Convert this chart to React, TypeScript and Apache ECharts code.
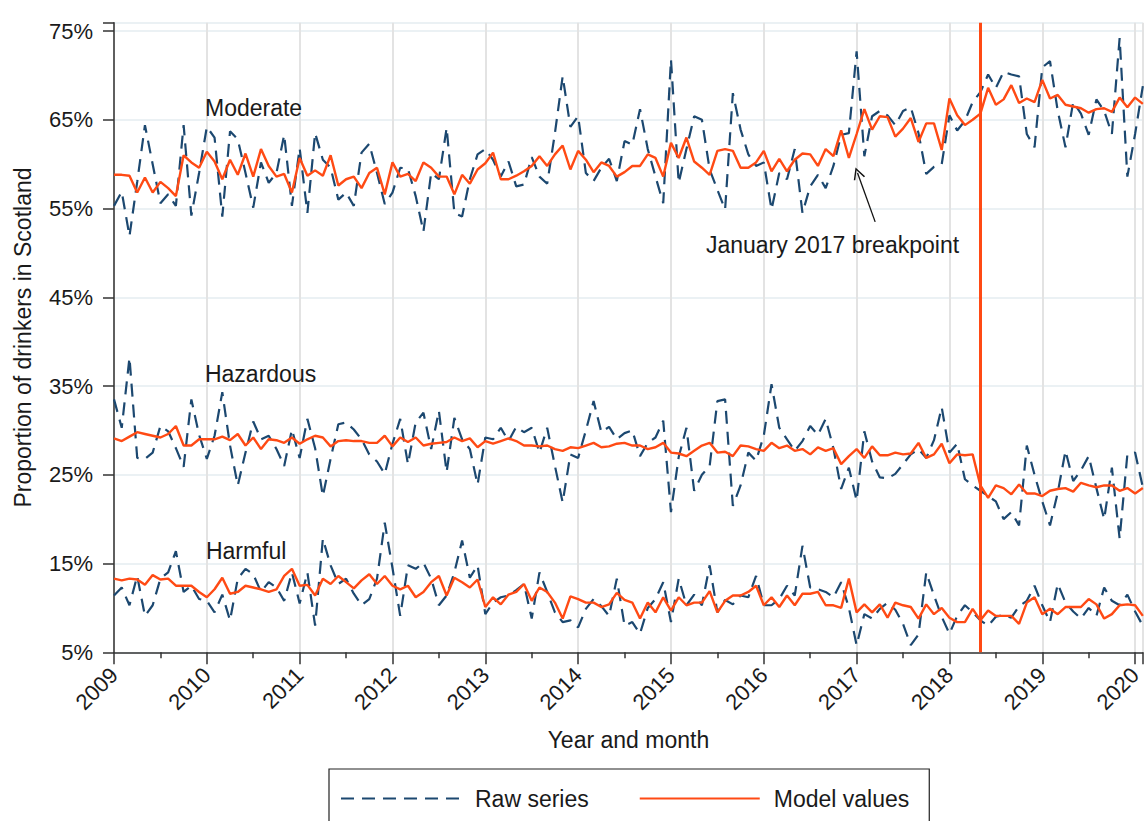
import React, { useEffect, useRef } from "react";
import * as echarts from "echarts";

// Monthly series, January 2009 to February 2020 (134 months)
const START_YEAR = 2009;
const rawModerate = [
  55.3, 56.9, 51.9, 58.0, 64.4, 60.0, 55.6, 56.6, 55.3, 64.4,
  54.2, 59.0, 64.2, 63.0, 54.1, 63.7, 62.8, 59.0, 55.1, 60.2,
  57.9, 59.0, 63.3, 55.3, 61.8, 54.5, 63.5, 60.5, 59.6, 56.0,
  56.8, 55.3, 61.3, 62.3, 59.0, 55.5, 56.8, 59.6, 59.5, 56.4,
  52.4, 59.0, 58.3, 64.1, 54.5, 54.1, 58.3, 61.1, 61.7, 60.5,
  58.6, 60.3, 57.5, 57.7, 60.8, 58.6, 57.8, 63.5, 69.9, 64.2,
  65.4, 59.0, 58.1, 59.6, 60.6, 58.1, 62.6, 62.2, 66.2, 61.7,
  58.6, 55.6, 71.8, 57.9, 61.7, 65.4, 65.0, 59.4, 57.1, 54.9,
  68.0, 63.9, 61.1, 59.8, 60.2, 54.9, 59.0, 58.3, 61.7, 54.5,
  57.5, 58.8, 57.3, 59.8, 63.3, 63.5, 72.7, 60.9, 65.4, 66.0,
  65.5, 64.4, 66.0, 66.4, 63.5, 58.9, 59.7, 60.0, 65.5, 63.8,
  64.9, 67.0, 68.1, 70.1, 68.6, 70.4, 70.1, 69.9, 63.4, 61.9,
  70.9, 71.6, 66.0, 61.9, 67.0, 65.7, 63.3, 67.3, 66.0, 63.4,
  74.2, 58.6, 63.4, 68.8,
];
const modelModerate = [
  58.8, 58.8, 58.7, 56.8, 58.5, 56.8, 58.0, 57.3, 56.4, 61.0,
  60.2, 59.6, 61.4, 60.3, 58.3, 60.5, 58.8, 61.2, 58.6, 61.7,
  59.8, 58.6, 58.9, 56.8, 60.7, 58.7, 59.3, 58.7, 61.0, 57.6,
  58.3, 58.6, 57.3, 59.0, 59.6, 56.6, 60.2, 58.6, 58.9, 58.1,
  60.2, 59.6, 58.6, 58.6, 56.6, 58.8, 57.8, 59.4, 60.1, 61.3,
  58.3, 58.3, 58.7, 59.2, 59.8, 60.9, 59.8, 61.1, 62.1, 59.4,
  61.5, 60.5, 59.1, 60.2, 59.8, 58.6, 59.1, 59.8, 59.8, 61.1,
  60.7, 58.6, 62.4, 60.7, 63.0, 60.3, 59.6, 58.8, 61.5, 61.7,
  61.5, 59.6, 59.6, 60.2, 61.5, 59.2, 60.6, 59.2, 60.5, 61.2,
  61.1, 59.8, 61.7, 60.9, 63.8, 60.7, 63.4, 66.2, 63.9, 65.4,
  65.3, 63.1, 64.0, 65.2, 62.5, 64.6, 64.6, 61.6, 67.4, 65.5,
  64.4, 65.0, 65.7, 68.6, 66.7, 67.3, 68.9, 66.9, 67.4, 67.0,
  69.5, 67.4, 67.8, 66.7, 66.5, 66.3, 65.8, 66.2, 66.3, 65.9,
  67.5, 66.4, 67.5, 66.8,
];
const rawHazardous = [
  33.5, 30.3, 38.2, 26.9, 26.8, 27.5, 30.5, 29.9, 28.0, 25.9,
  33.5, 29.5, 26.8, 29.4, 34.3, 28.3, 23.8, 27.5, 31.0, 29.0,
  29.4, 27.9, 26.0, 30.1, 26.9, 31.3, 28.0, 22.6, 26.8, 30.7,
  30.9, 30.1, 29.0, 27.3, 26.5, 25.1, 28.5, 31.3, 26.2, 30.9,
  32.0, 27.9, 32.2, 25.3, 31.4, 29.0, 27.9, 23.9, 29.2, 29.0,
  30.3, 28.8, 30.4, 29.8, 30.3, 27.5, 30.3, 26.0, 21.9, 27.3,
  26.9, 30.0, 33.3, 29.8, 30.4, 29.0, 29.7, 30.0, 27.1, 28.6,
  29.2, 31.1, 20.8, 27.0, 30.3, 23.2, 25.0, 26.0, 33.3, 33.5,
  21.5, 23.8, 27.5, 26.6, 29.4, 35.2, 30.3, 29.0, 27.7, 28.8,
  30.5, 29.5, 31.3, 28.0, 23.4, 25.8, 22.1, 29.9, 26.5, 24.7,
  24.6, 25.1, 26.2, 27.3, 27.9, 26.9, 28.9, 32.6, 27.5, 28.5,
  24.5, 23.8, 23.2, 22.6, 22.0, 20.0, 20.8, 19.3, 28.3, 25.0,
  22.0, 19.3, 23.0, 27.7, 24.3, 25.5, 27.1, 23.5, 20.0, 25.8,
  17.8, 27.3, 27.5, 23.6,
];
const modelHazardous = [
  29.1, 28.8, 29.3, 29.8, 29.6, 29.4, 29.2, 29.6, 30.5, 28.3,
  28.3, 29.0, 29.0, 29.0, 29.3, 28.9, 29.6, 28.3, 29.2, 27.9,
  29.0, 28.9, 28.6, 29.2, 28.5, 29.0, 29.4, 29.2, 28.2, 28.8,
  28.9, 28.8, 28.8, 28.6, 28.6, 29.4, 28.2, 29.2, 28.7, 29.2,
  28.3, 28.5, 28.6, 28.7, 29.2, 28.8, 29.1, 28.1, 28.8, 28.5,
  28.8, 29.1, 28.8, 28.3, 28.3, 28.2, 28.3, 27.9, 27.7, 28.1,
  28.0, 28.3, 28.6, 28.1, 28.2, 28.5, 28.6, 28.3, 28.3, 27.9,
  28.1, 28.6, 27.5, 27.4, 27.1, 27.7, 28.3, 28.6, 27.5, 27.6,
  27.1, 28.3, 28.2, 27.9, 27.7, 28.6, 28.0, 28.3, 27.7, 27.9,
  27.3, 28.1, 27.7, 28.0, 26.2, 27.1, 27.9, 26.9, 28.2, 27.2,
  27.2, 27.5, 27.3, 27.4, 28.6, 26.9, 27.3, 28.5, 26.3, 27.3,
  27.2, 27.3, 23.8, 22.4, 23.8, 23.5, 22.8, 23.9, 22.9, 22.9,
  22.6, 23.2, 23.4, 23.5, 23.1, 24.1, 23.8, 23.6, 23.8, 23.8,
  23.2, 23.5, 22.9, 23.5,
];
const rawHarmful = [
  11.4, 12.3, 10.3, 13.6, 9.1, 10.3, 13.3, 14.0, 16.4, 11.8,
  12.5, 11.0, 10.8, 9.5, 11.5, 8.6, 13.3, 14.4, 13.8, 11.8,
  12.9, 12.3, 10.8, 14.0, 10.5, 14.0, 8.0, 17.8, 14.8, 12.7,
  13.3, 11.6, 10.3, 11.0, 13.3, 19.6, 14.5, 9.1, 14.8, 14.4,
  15.1, 13.3, 10.3, 11.4, 14.0, 17.6, 13.4, 14.8, 9.3, 10.6,
  11.2, 11.4, 12.0, 12.7, 8.8, 14.0, 11.8, 9.5, 8.4, 8.6,
  7.8, 9.9, 11.0, 10.2, 9.1, 13.3, 8.0, 8.4, 7.1, 10.0,
  11.0, 12.9, 8.4, 13.3, 10.3, 11.5, 10.3, 14.8, 9.5, 10.9,
  10.4, 11.4, 11.2, 13.6, 10.3, 10.3, 11.0, 12.5, 11.4, 17.0,
  12.3, 12.1, 11.8, 11.2, 12.9, 10.0, 5.8, 9.3, 8.8, 9.9,
  10.6, 9.8, 8.2, 5.8, 7.0, 14.0, 11.4, 9.0, 7.1, 9.1,
  10.3, 9.5, 8.6, 8.0, 9.0, 9.2, 8.9, 10.2, 10.8, 12.5,
  10.3, 8.4, 12.7, 10.6, 9.6, 8.8, 10.0, 9.1, 12.3, 10.8,
  10.3, 11.5, 9.6, 8.0,
];
const modelHarmful = [
  13.3, 13.1, 13.3, 13.2, 12.6, 13.7, 13.2, 13.3, 12.5, 12.5,
  12.5, 11.8, 11.2, 12.1, 13.4, 11.6, 11.8, 12.5, 12.3, 12.1,
  11.8, 12.1, 13.6, 14.4, 12.5, 12.6, 11.4, 13.3, 12.7, 13.6,
  12.9, 12.2, 13.1, 13.8, 12.7, 13.6, 12.5, 12.1, 12.5, 11.2,
  11.8, 12.9, 13.6, 11.4, 13.4, 12.9, 12.3, 13.2, 10.1, 11.2,
  10.4, 11.5, 11.8, 12.7, 10.8, 12.3, 11.8, 10.6, 8.8, 11.3,
  11.0, 10.6, 10.6, 10.1, 10.4, 11.7, 10.9, 10.6, 8.8, 10.6,
  9.5, 11.2, 9.7, 11.2, 10.3, 10.6, 10.6, 11.9, 9.5, 10.8,
  11.4, 11.4, 11.8, 12.5, 10.3, 11.2, 10.1, 11.4, 10.3, 11.6,
  11.6, 11.8, 10.3, 10.3, 10.0, 13.3, 9.5, 10.4, 9.5, 10.4,
  8.9, 10.6, 10.3, 10.1, 8.8, 10.4, 9.3, 10.0, 8.9, 8.4,
  8.4, 9.9, 8.6, 9.7, 9.1, 9.1, 9.1, 8.2, 10.6, 11.2,
  9.3, 9.9, 9.3, 10.1, 10.1, 10.1, 11.0, 10.4, 8.8, 9.3,
  10.3, 10.4, 10.3, 9.1,
];

const yTickLabels = ["5%", "15%", "25%", "35%", "45%", "55%", "65%", "75%"];
const groupLabels = [
  { name: "Moderate", year: 2009.98, value: 66.3 },
  { name: "Hazardous", year: 2009.98, value: 36.4 },
  { name: "Harmful", year: 2009.99, value: 16.4 },
];
const breakpointText = { text: "January 2017 breakpoint", year: 2016.74, value: 50.9 };
const breakpointArrow = { from: [2017.2, 53.5], to: [2017.01, 59.0] };
const interventionMonth = 2018 + 4 / 12; // May 2018

const NAVY = "#1c4870";
const RED = "#ff4a14";
const TEXT = "#1a1a1a";
const FONT = "'Liberation Sans', Arial, sans-serif";
const ARROW_HEAD = "path://M5,0 L8.8,10 L7.9,10.4 L5,2.6 L2.1,10.4 L1.2,10 Z";

const monthX = (i: number) => START_YEAR + i / 12;
const toPoints = (vals: number[]) => vals.map((v, i) => [monthX(i), v]);

const textPoint = (name: string, year: number, value: number, position: string) => ({
  coord: [year, value],
  symbol: "circle",
  symbolSize: 0,
  label: {
    show: true,
    formatter: name,
    position,
    distance: 0,
    fontSize: 23,
    color: TEXT,
    fontFamily: FONT,
  },
});

export default function App() {
  const ref = useRef<HTMLDivElement>(null);

  useEffect(() => {
    if (!ref.current) return;
    const chart = echarts.init(ref.current, undefined, { renderer: "svg" });

    const rawStyle = { color: NAVY, width: 2.2, type: [13, 8] as any };
    const modelStyle = { color: RED, width: 2.4, type: "solid" };

    const rawSeries = (data: number[], extra: any = {}) => ({
      type: "line",
      name: "Raw series",
      data: toPoints(data),
      symbol: "none",
      lineStyle: rawStyle,
      itemStyle: { color: NAVY },
      z: 2,
      ...extra,
    });
    const modelSeries = (data: number[], extra: any = {}) => ({
      type: "line",
      name: "Model values",
      data: toPoints(data),
      symbol: "none",
      lineStyle: modelStyle,
      itemStyle: { color: RED },
      z: 3,
      ...extra,
    });

    chart.setOption({
      animation: false,
      textStyle: { fontFamily: FONT },
      grid: { left: 114, right: 0, top: 22.7, bottom: 168.7, containLabel: false },
      xAxis: {
        type: "value",
        min: START_YEAR,
        max: 2020 + 1 / 12,
        interval: 1,
        name: "Year and month",
        nameLocation: "middle",
        nameGap: 76,
        nameTextStyle: { fontSize: 23, color: TEXT, fontFamily: FONT },
        axisLine: { show: true, onZero: false, lineStyle: { color: "#333", width: 1.5 } },
        axisTick: { show: true, length: 12, lineStyle: { color: "#333", width: 1.5 } },
        minorTick: { show: true, splitNumber: 2, length: 6, lineStyle: { color: "#333", width: 1.5 } },
        axisLabel: {
          rotate: 45,
          margin: 19,
          fontSize: 22,
          color: TEXT,
          fontFamily: FONT,
          formatter: (v: number) => (Number.isInteger(v) ? String(v) : ""),
        },
        splitLine: { show: true, lineStyle: { color: "#e3e3e3", width: 2 } },
      },
      yAxis: {
        type: "value",
        min: 5,
        max: 75.94,
        interval: 10,
        name: "Proportion of drinkers in Scotland",
        nameLocation: "middle",
        nameRotate: 90,
        nameGap: 80,
        nameTextStyle: { fontSize: 23, color: TEXT, fontFamily: FONT },
        axisLine: { show: true, onZero: false, lineStyle: { color: "#333", width: 1.5 } },
        axisTick: { show: true, length: 11, lineStyle: { color: "#333", width: 1.5 } },
        axisLabel: {
          margin: 21,
          fontSize: 22,
          color: TEXT,
          fontFamily: FONT,
          formatter: (v: number) => {
            const label = `${Math.round(v)}%`;
            return Math.abs(v - Math.round(v)) < 1e-6 && yTickLabels.includes(label) ? label : "";
          },
        },
        splitLine: { show: true, lineStyle: { color: "#e4ecf1", width: 1.5 } },
      },
      legend: {
        data: ["Raw series", "Model values"],
        left: 329,
        top: 769,
        orient: "horizontal",
        itemWidth: 120,
        itemHeight: 24,
        itemGap: 50,
        padding: [18, 20, 30, 11],
        borderColor: "#222",
        borderWidth: 1.2,
        itemStyle: { opacity: 0 },
        textStyle: { fontSize: 23, color: TEXT, fontFamily: FONT, padding: [0, 0, 0, 9] },
      },
      series: [
        rawSeries(rawModerate, {
          markLine: {
            silent: true,
            symbol: ["none", ARROW_HEAD],
            symbolSize: 12,
            label: { show: false },
            lineStyle: { color: "#111", width: 1.3, type: "solid" },
            data: [[{ coord: breakpointArrow.from }, { coord: breakpointArrow.to }]],
          },
        }),
        rawSeries(rawHazardous),
        rawSeries(rawHarmful),
        modelSeries(modelModerate, {
          markLine: {
            silent: true,
            symbol: ["none", "none"],
            label: { show: false },
            lineStyle: { color: RED, width: 3, type: "solid" },
            data: [{ xAxis: interventionMonth }],
          },
          markPoint: {
            silent: true,
            data: [
              textPoint(groupLabels[0].name, groupLabels[0].year, groupLabels[0].value, "right"),
              textPoint(breakpointText.text, breakpointText.year, breakpointText.value, "inside"),
            ],
          },
        }),
        modelSeries(modelHazardous, {
          markPoint: {
            silent: true,
            data: [textPoint(groupLabels[1].name, groupLabels[1].year, groupLabels[1].value, "right")],
          },
        }),
        modelSeries(modelHarmful, {
          markPoint: {
            silent: true,
            data: [textPoint(groupLabels[2].name, groupLabels[2].year, groupLabels[2].value, "right")],
          },
        }),
      ],
    });

    return () => chart.dispose();
  }, []);

  return (
    <div
      ref={ref}
      style={{ position: "absolute", left: 0, top: 0, width: 1145, height: 821, background: "#fff" }}
    />
  );
}
